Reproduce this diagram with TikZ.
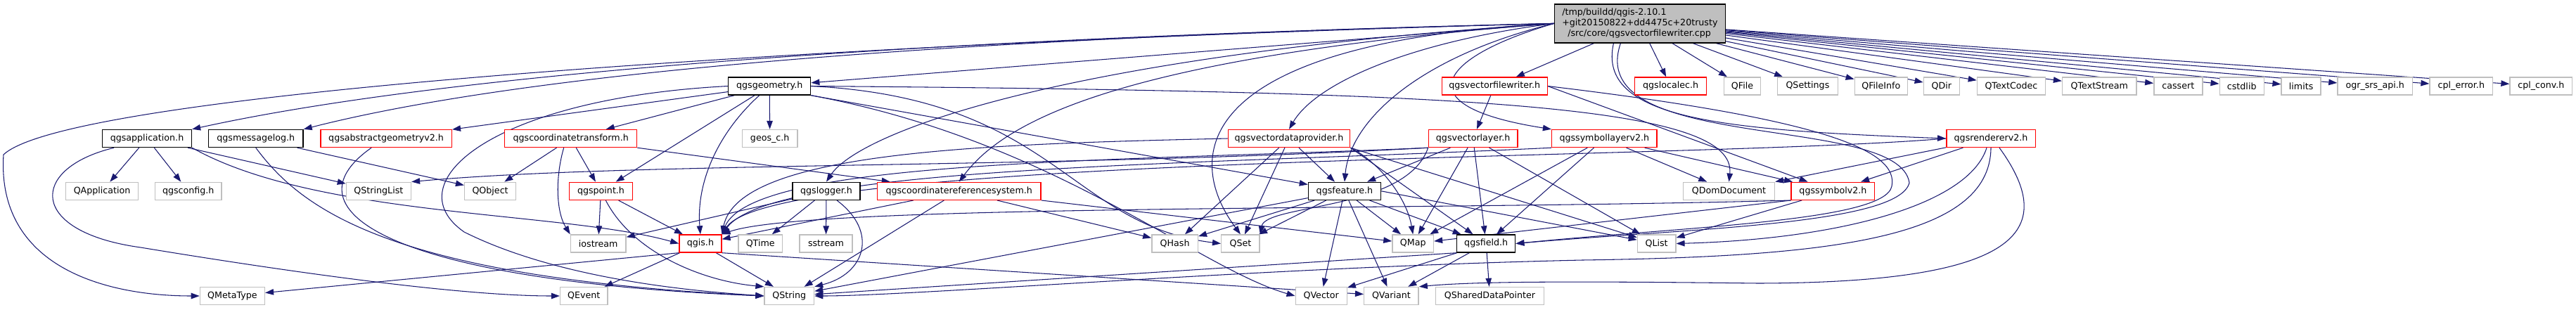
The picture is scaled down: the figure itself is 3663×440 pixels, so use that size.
\documentclass[tikz,border=0pt]{standalone}
\usepackage{fontspec}
\usepackage{xcolor}
\usepackage{tikz}
\usetikzlibrary{arrows.meta}
\newfontfamily\dxfont{DejaVu Sans}
\definecolor{incblue}{RGB}{25, 25, 112}
\definecolor{cutred}{RGB}{255, 0, 0}
\definecolor{sysgray}{RGB}{191, 191, 191}
\pgfdeclarelayer{bg}
\pgfsetlayers{bg,main}
\tikzset{
    hdr/.style={rectangle, draw=black, fill=white, minimum height=0.5cm,
                inner sep=1pt, font=\dxfont\fontsize{7.2}{8.5}\selectfont,
                line width=0.8pt},
    cut/.style={hdr, draw=cutred},
    sys/.style={hdr, draw=sysgray},
    srcfile/.style={hdr, fill=sysgray, align=left, minimum height=1.1cm},
    inc/.style={line width=0.6pt, draw=incblue,
                -{Triangle[length=2.4mm, width=1.7mm]}},
}

\begin{document}
\begin{tikzpicture}[x=0.02cm, y=-0.02cm]
    \useasboundingbox (0,0) rectangle (3663,440);

    % The source file
    \node[srcfile, minimum width=4.86cm] (root) at (2331.9,33.4)
        {/tmp/buildd/qgis-2.10.1\\+git20150822+dd4475c+20trusty\\\hspace*{0.16cm}/src/core/qgsvectorfilewriter.cpp};

    % Row 1
    \node[hdr, minimum width=2.34cm] (geom) at (1094.2,122.5) {qgsgeometry.h};
    \node[cut, minimum width=3.0cm] (vfwh) at (2125.2,122.5) {qgsvectorfilewriter.h};
    \node[cut, minimum width=2.04cm] (localec) at (2375.6,122.5) {qgslocalec.h};
    \node[sys, minimum width=1.04cm] (qfile) at (2477.5,122.5) {QFile};
    \node[sys, minimum width=1.72cm] (qsettings) at (2570.4,122.5) {QSettings};
    \node[sys, minimum width=1.5cm] (qfileinfo) at (2674.8,122.5) {QFileInfo};
    \node[sys, minimum width=1.02cm] (qdir) at (2760.8,122.5) {QDir};
    \node[sys, minimum width=1.94cm] (qtextcodec) at (2859.9,122.5) {QTextCodec};
    \node[sys, minimum width=2.11cm] (qtextstream) at (2985.3,122.5) {QTextStream};
    \node[sys, minimum width=1.38cm] (cassert) at (3097.3,122.5) {cassert};
    \node[sys, minimum width=1.26cm] (cstdlib) at (3187.7,122.5) {cstdlib};
    \node[sys, minimum width=1.12cm] (limits) at (3272.1,122.5) {limits};
    \node[sys, minimum width=2.13cm] (ogr) at (3377.2,122.5) {ogr\_srs\_api.h};
    \node[sys, minimum width=1.79cm] (cplerr) at (3499.8,122.5) {cpl\_error.h};
    \node[sys, minimum width=1.77cm] (cplconv) at (3613.3,122.5) {cpl\_conv.h};

    % Row 2
    \node[hdr, minimum width=2.54cm] (app) at (209,197) {qgsapplication.h};
    \node[hdr, minimum width=2.69cm] (msglog) at (363.8,197) {qgsmessagelog.h};
    \node[cut, minimum width=3.73cm] (absgeom) at (549.1,197) {qgsabstractgeometryv2.h};
    \node[cut, minimum width=3.76cm] (ctrans) at (811.7,197) {qgscoordinatetransform.h};
    \node[sys, minimum width=1.57cm] (geosc) at (1094.7,197) {geos\_c.h};
    \node[cut, minimum width=3.47cm] (vdp) at (1833,197) {qgsvectordataprovider.h};
    \node[cut, minimum width=2.53cm] (vlayer) at (2094.6,197) {qgsvectorlayer.h};
    \node[cut, minimum width=2.99cm] (symlayer) at (2281.3,197) {qgssymbollayerv2.h};
    \node[cut, minimum width=2.53cm] (renderer) at (2831,197) {qgsrendererv2.h};

    % Row 3
    \node[sys, minimum width=2.06cm] (qapplication) at (145.1,271.8) {QApplication};
    \node[sys, minimum width=1.9cm] (qgsconfig) at (267.7,271.8) {qgsconfig.h};
    \node[sys, minimum width=1.84cm] (qstringlist) at (538.4,271.8) {QStringList};
    \node[sys, minimum width=1.46cm] (qobject) at (697.1,271.8) {QObject};
    \node[cut, minimum width=1.79cm] (point) at (854.5,271.8) {qgspoint.h};
    \node[hdr, minimum width=1.92cm] (logger) at (1175,271.8) {qgslogger.h};
    \node[cut, minimum width=4.66cm] (crs) at (1363.7,271.8) {qgscoordinatereferencesystem.h};
    \node[hdr, minimum width=2.06cm] (feature) at (1911.9,271.8) {qgsfeature.h};
    \node[sys, minimum width=2.61cm] (qdomdoc) at (2458.5,271.8) {QDomDocument};
    \node[cut, minimum width=2.37cm] (symbol) at (2606.4,271.8) {qgssymbolv2.h};

    % Row 4
    \node[sys, minimum width=1.57cm] (iostream) at (850.7,346.5) {iostream};
    \node[cut, minimum width=1.2cm] (qgis) at (995.9,346.5) {qgis.h};
    \node[sys, minimum width=1.25cm] (qtime) at (1081.2,346.5) {QTime};
    \node[sys, minimum width=1.5cm] (sstream) at (1174.5,346.5) {sstream};
    \node[sys, minimum width=1.31cm] (qhash) at (1670.6,346.5) {QHash};
    \node[sys, minimum width=1.09cm] (qset) at (1763.9,346.5) {QSet};
    \node[sys, minimum width=1.17cm] (qmap) at (2009.2,346.5) {QMap};
    \node[hdr, minimum width=1.66cm] (field) at (2113.2,346.5) {qgsfield.h};
    \node[sys, minimum width=1.09cm] (qlist) at (2355.6,346.5) {QList};

    % Row 5
    \node[sys, minimum width=1.84cm] (qmetatype) at (330.4,421) {QMetaType};
    \node[sys, minimum width=1.35cm] (qevent) at (830.3,421) {QEvent};
    \node[sys, minimum width=1.41cm] (qstring) at (1122.3,421) {QString};
    \node[sys, minimum width=1.46cm] (qvector) at (1878.7,421) {QVector};
    \node[sys, minimum width=1.55cm] (qvariant) at (1978.4,421) {QVariant};
    \node[sys, minimum width=3.09cm] (qshared) at (2118.5,421) {QSharedDataPointer};

    \begin{pgfonlayer}{bg}
    % From the source file
    \draw[inc] (root.west) .. controls (1500,50) and (700,90) .. (app.north east);
    \draw[inc] (root.west) .. controls (1500,50) and (800,90) .. (msglog.north east);
    \draw[inc] (root.west) -- (geom);
    \draw[inc] (root.west) .. controls (1200,60) and (100,130) .. (5,220)
        .. controls (-5,380) and (150,421) .. (qmetatype.west);
    \draw[inc] (root.west) .. controls (2000,60) and (1870,120) .. (vdp.north);
    \draw[inc] (root.west) .. controls (1600,80) and (1430,170) .. (crs.north);
    \draw[inc] (root.west) .. controls (1500,80) and (1220,190) .. (logger.north);
    \draw[inc] (root.west) .. controls (2020,80) and (1920,170) .. (feature.north);
    \draw[inc] (root.west) .. controls (1700,60) and (1680,220) .. (qset.north);
    \draw[inc] (root.west) .. controls (2050,80) and (1990,150) .. (symlayer.north west);
    \draw[inc] (root) -- (vfwh);
    \draw[inc] (root) -- (localec);
    \draw[inc] ([xshift=-0.75cm]root.south) .. controls (2270,170) and (2450,185) .. (renderer.west);
    \draw[inc] ([xshift=-0.55cm]root.south) .. controls (2250,220) and (2700,160) .. (2715,260)
        .. controls (2700,320) and (2400,325) .. (field.east);
    \draw[inc] (root) -- (qfile);
    \draw[inc] (root) -- (qsettings);
    \draw[inc] (root) -- (qfileinfo);
    \draw[inc] (root) -- (qdir);
    \draw[inc] (root) -- (qtextcodec);
    \draw[inc] (root) -- (qtextstream);
    \draw[inc] (root) -- (cassert);
    \draw[inc] (root) -- (cstdlib);
    \draw[inc] (root) -- (limits);
    \draw[inc] (root) -- (ogr);
    \draw[inc] (root) -- (cplerr);
    \draw[inc] (root) -- (cplconv);

    % Left part
    \draw[inc] (app) -- (qapplication);
    \draw[inc] (app) -- (qgsconfig);
    \draw[inc] (app) -- (qstringlist);
    \draw[inc] (app.south east) .. controls (450,310) and (800,300) .. (qgis.west);
    \draw[inc] ([xshift=-0.94cm]app.south) .. controls (40,240) and (40,330) .. (200,352)
        .. controls (400,385) and (650,421) .. (qevent.west);
    \draw[inc] (msglog.south) .. controls (430,300) and (560,395) .. (qstring.west);
    \draw[inc] (msglog) -- (qobject);
    \draw[inc] ([xshift=-0.42cm]absgeom.south) .. controls (400,300) and (560,400) .. (qstring.west);

    % qgsgeometry.h
    \draw[inc] (geom) -- (absgeom);
    \draw[inc] (geom) -- (ctrans);
    \draw[inc] (geom) -- (point);
    \draw[inc] (geom) .. controls (1020,190) and (990,260) .. (qgis.north);
    \draw[inc] (geom) -- (geosc);
    \draw[inc] (geom.west) .. controls (700,140) and (560,260) .. (660,330)
        .. controls (800,400) and (1000,415) .. (qstring.west);
    \draw[inc] (geom.east) .. controls (2100,130) and (2470,150) .. (qdomdoc.north);
    \draw[inc] (geom.east) .. controls (1500,140) and (1520,320) .. (qset.west);
    \draw[inc] (geom.south east) .. controls (1500,200) and (1700,380) .. (qvector.west);
    \draw[inc] (geom.south east) -- (feature);

    % Middle part
    \draw[inc] (ctrans) -- (qobject);
    \draw[inc] (ctrans) -- (point);
    \draw[inc] ([xshift=-0.2cm]ctrans.south) .. controls (790,250) and (790,300) .. (iostream.north west);
    \draw[inc] (ctrans.south east) -- (crs);
    \draw[inc] (point) -- (iostream);
    \draw[inc] (point) -- (qgis);
    \draw[inc] (point) .. controls (900,360) and (1000,400) .. (qstring.north west);
    \draw[inc] (logger) -- (iostream);
    \draw[inc] (logger) -- (qtime);
    \draw[inc] (logger) -- (sstream);
    \draw[inc] ([xshift=0.3cm]logger.south) .. controls (1250,330) and (1230,390) .. (qstring.north east);
    \draw[inc] (crs) -- (qgis);
    \draw[inc] (crs) -- (qstring);
    \draw[inc] (crs) -- (qhash);
    \draw[inc] (crs.south east) -- (qmap);
    \draw[inc] (qgis.south west) -- (qmetatype);
    \draw[inc] (qgis) -- (qevent);
    \draw[inc] (qgis) -- (qstring);
    \draw[inc] (qgis.south east) -- (qvariant);

    % Layer and provider
    \draw[inc] (vfwh) -- (vlayer);
    \draw[inc] (vfwh.east) -- (symbol);
    \draw[inc] (vfwh.east) .. controls (2600,170) and (2700,215) .. (2690,265)
        .. controls (2680,315) and (2400,322) .. (field.east);
    \draw[inc] (vdp.west) .. controls (1400,205) and (1050,215) .. (qgis.north east);
    \draw[inc] (vdp) -- (qset);
    \draw[inc] (vdp) -- (qhash);
    \draw[inc] (vdp) -- (feature);
    \draw[inc] (vdp.south east) .. controls (1960,230) and (2000,280) .. (qmap.north);
    \draw[inc] (vdp.south east) -- (field);
    \draw[inc] (vdp.south east) -- (qlist);
    \draw[inc] (vlayer.south west) .. controls (1500,240) and (900,230) .. (qstringlist.north east);
    \draw[inc] (vlayer.south west) .. controls (1600,230) and (1070,225) .. (qgis.north east);
    \draw[inc] (vlayer.south west) .. controls (2000,300) and (1800,290) .. (qset.north east);
    \draw[inc] (vlayer) -- (feature);
    \draw[inc] (vlayer) -- (qmap);
    \draw[inc] (vlayer) -- (field);
    \draw[inc] (vlayer) -- (qlist);

    % Symbology
    \draw[inc] (symlayer.south west) .. controls (1700,235) and (1100,235) .. (qgis.north east);
    \draw[inc] (symlayer) -- (qmap);
    \draw[inc] (symlayer) -- (field);
    \draw[inc] (symlayer) -- (qdomdoc);
    \draw[inc] (symlayer) -- (symbol);
    \draw[inc] (renderer.west) .. controls (2400,228) and (1100,220) .. (qgis.north east);
    \draw[inc] (renderer) -- (qdomdoc);
    \draw[inc] (renderer) -- (symbol);
    \draw[inc] ([xshift=-0.12cm]renderer.south) .. controls (2800,290) and (2620,340) .. (qlist.east);
    \draw[inc] (renderer.south) .. controls (2830,340) and (2600,365) .. (2250,370)
        .. controls (1800,380) and (1300,421) .. (qstring.east);
    \draw[inc] ([xshift=0.24cm]renderer.south) .. controls (2930,330) and (2870,402) .. (2500,403)
        .. controls (2250,400) and (2100,400) .. (qvariant.north east);
    \draw[inc] (symbol.south west) .. controls (2000,300) and (1150,290) .. (qgis.north east);
    \draw[inc] (symbol.south west) -- (qmap);
    \draw[inc] (symbol) -- (qlist);

    % qgsfeature.h and qgsfield.h
    \draw[inc] (feature) -- (qmap);
    \draw[inc] (feature) -- (field);
    \draw[inc] (feature.east) -- (qlist);
    \draw[inc] (feature) -- (qvector);
    \draw[inc] (feature) -- (qvariant);
    \draw[inc] (feature) -- (qstring);
    \draw[inc] (feature) -- (qhash);
    \draw[inc] (feature) -- (qset);
    \draw[inc] (field.south west) -- (qstring);
    \draw[inc] (field) -- (qvariant);
    \draw[inc] (field) -- (qvector);
    \draw[inc] (field) -- (qshared);
    \end{pgfonlayer}
\end{tikzpicture}
\end{document}
